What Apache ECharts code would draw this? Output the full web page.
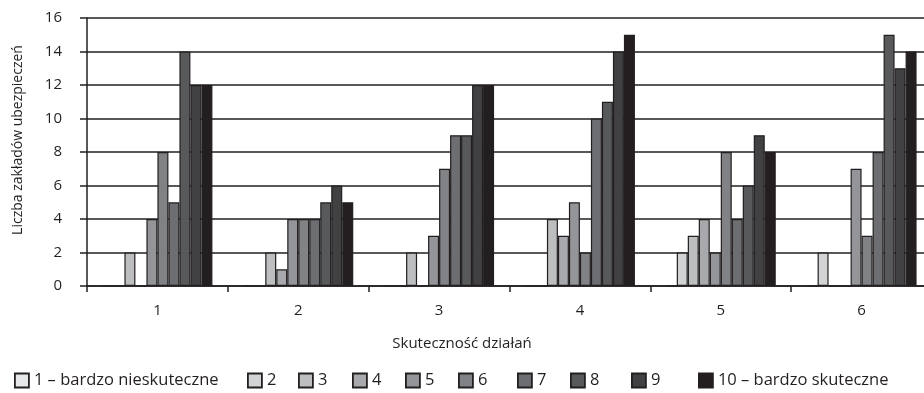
<!DOCTYPE html>
<html><head><meta charset="utf-8">
<script src="https://cdn.jsdelivr.net/npm/echarts@6/dist/echarts.min.js"></script>
<style>html,body{margin:0;padding:0;background:#fff;overflow:hidden;width:924px;height:393px}#c{width:932px;height:393px}</style>
</head><body><div id="c"></div>
<script>
const categories = ['1','2','3','4','5','6'];
const seriesNames = ['1 – bardzo nieskuteczne','2','3','4','5','6','7','8','9','10 – bardzo skuteczne'];
const s1 = [0,0,0,0,0,0];
const s2 = [0,0,0,0,2,2];
const s3 = [2,2,2,4,3,0];
const s4 = [0,1,0,3,4,0];
const s5 = [4,4,3,5,2,7];
const s6 = [8,4,7,2,8,3];
const s7 = [5,4,9,10,4,8];
const s8 = [14,5,9,11,6,15];
const s9 = [12,6,12,14,9,13];
const s10 = [12,5,12,15,8,14];
const seriesValues = [s1,s2,s3,s4,s5,s6,s7,s8,s9,s10];
const yTicks = [0,2,4,6,8,10,12,14,16];
const xTitle = 'Skuteczność działań';
const yTitle = 'Liczba zakładów ubezpieczeń';
const colors = ['#e6e7e8','#d1d3d4','#bcbec0','#a7a9ac','#939598','#808285','#6d6e71','#58595b','#414042','#231f20'];
const legendLeft = [14,247,298,352,405,458,517,570,631,698];
const FONT = 'Open Sans';
const ink = '#231f20';

const chart = echarts.init(document.getElementById('c'));
chart.setOption({
  animation: false,
  textStyle: {fontFamily: FONT, color: ink},
  grid: {left: 87, right: 0, top: 18, bottom: 107},
  graphic: [
    {type: 'text', x: 462, y: 344, style: {text: xTitle, fontFamily: FONT, fontSize: 15, fill: ink, textAlign: 'center', textVerticalAlign: 'middle'}},
    {type: 'text', x: 18, y: 140, rotation: Math.PI / 2, style: {text: yTitle, fontFamily: FONT, fontSize: 14, fill: ink, textAlign: 'center', textVerticalAlign: 'middle'}}
  ],
  legend: seriesNames.map((n, i) => ({
    left: legendLeft[i], top: 372, padding: 0, itemWidth: 14, itemHeight: 14,
    icon: 'rect', data: [n],
    itemStyle: {borderWidth: 1.8, borderColor: ink},
    textStyle: {fontFamily: FONT, fontSize: 16.5, color: ink}
  })),
  xAxis: {type: 'category', data: categories,
    axisLine: {lineStyle: {color: ink, width: 1.5}},
    axisTick: {show: true, length: 6, lineStyle: {color: ink, width: 1.5}},
    axisLabel: {fontFamily: FONT, fontSize: 15, color: ink, margin: 17}},
  yAxis: {type: 'value', min: 0, max: 16, interval: 2,
    axisLine: {show: true, lineStyle: {color: ink, width: 1.5}},
    axisTick: {show: true, length: 7, lineStyle: {color: ink, width: 1.5}},
    axisLabel: {fontFamily: FONT, fontSize: 15, color: ink, margin: 25,
      formatter: v => yTicks.includes(v) ? String(v) : ''},
    splitLine: {lineStyle: {color: ink, width: 1.5}}},
  series: seriesValues.map((d, i) => ({
    name: seriesNames[i], type: 'bar', data: d, barWidth: 11, barGap: '0%',
    itemStyle: {color: colors[i], borderColor: ink, borderWidth: 1.2}
  }))
});
</script></body></html>
